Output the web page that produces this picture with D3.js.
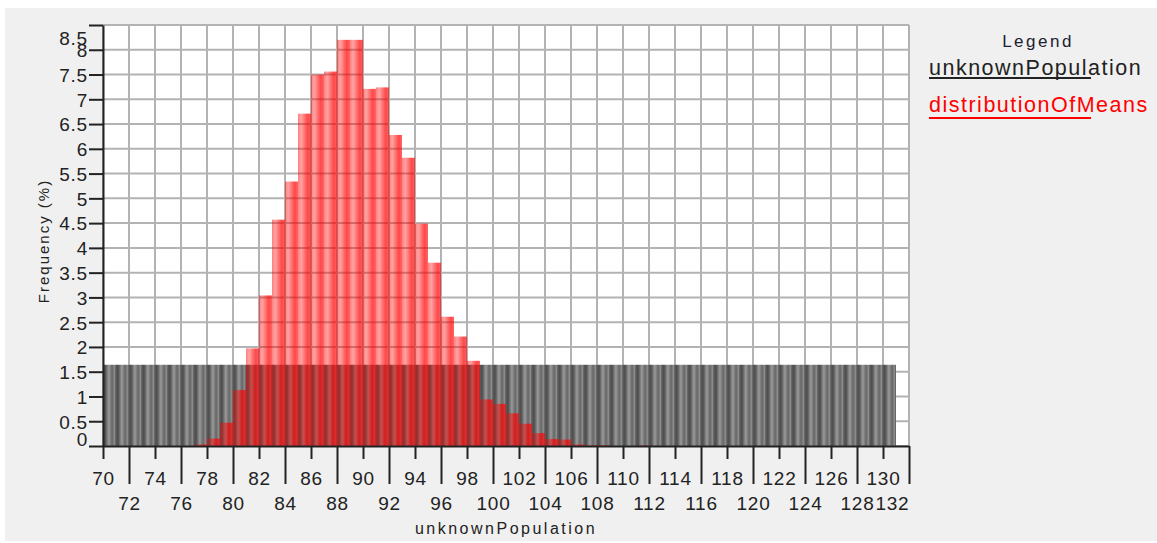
<!DOCTYPE html>
<html lang="en">
<head>
    <meta charset="UTF-8">
    <title>unknownPopulation vs distributionOfMeans</title>
    <style>
        body {
            margin: 0;
            background: #ffffff;
            font-family: 'Liberation Sans', Arial, sans-serif;
        }
        .grid line {
            stroke: #b3b3b3;
            stroke-width: 2px;
        }
        .axis path, .axis line {
            stroke: #222;
            stroke-width: 2px;
        }
        .axis text {
            font-family: 'Liberation Sans', Arial, sans-serif;
            font-size: 19px;
            fill: #222;
            letter-spacing: 0.8px;
        }
    </style>
    <script src="https://d3js.org/d3.v7.min.js"></script>
</head>
<body>
<svg id="chart" width="1157" height="543"></svg>
<script>
    // histogram bins (left edge of each 1-unit bin) and frequencies in %
    const popBins = [70, 71, 72, 73, 74, 75, 76, 77, 78, 79, 80, 81, 82, 83, 84, 85, 86, 87, 88, 89,
        90, 91, 92, 93, 94, 95, 96, 97, 98, 99, 100, 101, 102, 103, 104, 105, 106, 107, 108, 109,
        110, 111, 112, 113, 114, 115, 116, 117, 118, 119, 120, 121, 122, 123, 124, 125, 126, 127, 128, 129, 130];
    const popValues = [1.64, 1.64, 1.64, 1.64, 1.64, 1.64, 1.64, 1.64, 1.64, 1.64, 1.64, 1.64, 1.64, 1.64, 1.64, 1.64,
        1.64, 1.64, 1.64, 1.64, 1.64, 1.64, 1.64, 1.64, 1.64, 1.64, 1.64, 1.64, 1.64, 1.64, 1.64, 1.64,
        1.64, 1.64, 1.64, 1.64, 1.64, 1.64, 1.64, 1.64, 1.64, 1.64, 1.64, 1.64, 1.64, 1.64, 1.64, 1.64,
        1.64, 1.64, 1.64, 1.64, 1.64, 1.64, 1.64, 1.64, 1.64, 1.64, 1.64, 1.64, 1.64];

    const meanBins = [77, 78, 79, 80, 81, 82, 83, 84, 85, 86, 87, 88, 89, 90, 91, 92, 93, 94, 95, 96,
        97, 98, 99, 100, 101, 102, 103, 104, 105, 106, 107, 108, 111];
    const meanValues = [0.03, 0.15, 0.47, 1.13, 1.97, 3.04, 4.57, 5.34, 6.71, 7.50, 7.56, 8.20, 8.20, 7.21, 7.24, 6.28,
        5.82, 4.49, 3.70, 2.61, 2.21, 1.72, 0.94, 0.85, 0.66, 0.45, 0.26, 0.14, 0.13, 0.03, 0.01, 0.015, 0.01];

    const xTicks = [70, 72, 74, 76, 78, 80, 82, 84, 86, 88, 90, 92, 94, 96, 98, 100, 102, 104, 106, 108,
        110, 112, 114, 116, 118, 120, 122, 124, 126, 128, 130, 132];
    const yTicks = [0, 0.5, 1, 1.5, 2, 2.5, 3, 3.5, 4, 4.5, 5, 5.5, 6, 6.5, 7, 7.5, 8, 8.5];

    const svg = d3.select("#chart");

    // grey panel
    svg.append("rect")
        .attr("x", 5).attr("y", 8)
        .attr("width", 1152).attr("height", 533)
        .attr("fill", "#f0f0f0");

    const x = d3.scaleLinear().domain([70, 132]).range([103, 909]);
    const y = d3.scaleLinear().domain([0, 8.5]).range([446, 25]);

    // gradients for the striped bar look
    const defs = svg.append("defs");
    const grey = defs.append("linearGradient").attr("id", "greyGrad");
    [["0%", "#5c5c5c"], ["15%", "#4c4c4c"], ["45%", "#9a9a9a"], ["70%", "#666"], ["88%", "#8c8c8c"], ["100%", "#585858"]]
        .forEach(s => grey.append("stop").attr("offset", s[0]).attr("stop-color", s[1]));
    const red = defs.append("linearGradient").attr("id", "redGrad");
    [["0%", 0.5], ["25%", 0.36], ["75%", 0.72], ["100%", 0.6]]
        .forEach(s => red.append("stop").attr("offset", s[0]).attr("stop-color", "#ff0000").attr("stop-opacity", s[1]));

    // plot area
    svg.append("rect")
        .attr("x", x(70)).attr("y", y(8.5))
        .attr("width", x(132) - x(70)).attr("height", y(0) - y(8.5))
        .attr("fill", "#fff");

    const grid = svg.append("g").attr("class", "grid");
    grid.selectAll(".h").data(yTicks).join("line")
        .attr("x1", x(70)).attr("x2", x(132))
        .attr("y1", d => y(d)).attr("y2", d => y(d));
    grid.selectAll(".v").data(xTicks).join("line")
        .attr("x1", d => x(d)).attr("x2", d => x(d))
        .attr("y1", y(8.5)).attr("y2", y(0));

    // unknownPopulation bars
    svg.append("g").selectAll("rect").data(popBins).join("rect")
        .attr("x", d => x(d))
        .attr("width", d => x(d + 1) - x(d))
        .attr("y", (d, i) => y(popValues[i]))
        .attr("height", (d, i) => y(0) - y(popValues[i]))
        .attr("fill", "url(#greyGrad)");

    // distributionOfMeans bars
    svg.append("g").selectAll("rect").data(meanBins).join("rect")
        .attr("x", d => x(d))
        .attr("width", d => x(d + 1) - x(d))
        .attr("y", (d, i) => y(meanValues[i]))
        .attr("height", (d, i) => y(0) - y(meanValues[i]))
        .attr("fill", "url(#redGrad)");

    // y axis
    const yAxis = svg.append("g")
        .attr("class", "axis")
        .attr("transform", `translate(${x(70)},0)`)
        .call(d3.axisLeft(y).tickValues(yTicks).tickSize(14).tickSizeOuter(0).tickPadding(1)
            .tickFormat(d => d));
    yAxis.selectAll("text")
        .attr("dy", d => d === 8.5 ? "1.0em" : (d === 0 ? "-0.05em" : "0.36em"));

    // x axis, labels alternate between two rows
    const xAxis = svg.append("g")
        .attr("class", "axis")
        .attr("transform", `translate(0,${y(0)})`)
        .call(d3.axisBottom(x).tickValues(xTicks).tickSize(13).tickSizeOuter(0));
    xAxis.selectAll(".tick line")
        .attr("y2", (d, i) => i % 2 ? 38 : 13);
    xAxis.selectAll(".tick text")
        .attr("dy", 0)
        .attr("y", (d, i) => i % 2 ? 64 : 39)
        .attr("text-anchor", d => d === 132 ? "end" : "middle")
        .attr("dx", d => d === 132 ? 0 : 0);

    // axis titles
    svg.append("text")
        .attr("x", 506).attr("y", 534)
        .attr("text-anchor", "middle")
        .style("font-size", "16px")
        .style("letter-spacing", "2.5px")
        .attr("fill", "#222")
        .text("unknownPopulation");

    svg.append("text")
        .attr("transform", "translate(49,241) rotate(-90)")
        .attr("text-anchor", "middle")
        .style("font-size", "15px")
        .style("letter-spacing", "2px")
        .attr("fill", "#222")
        .text("Frequency (%)");

    // legend
    svg.append("text")
        .attr("x", 1038).attr("y", 47)
        .attr("text-anchor", "middle")
        .style("font-size", "17px")
        .style("letter-spacing", "2.5px")
        .attr("fill", "#202030")
        .text("Legend");

    const legendItems = [
        {name: "unknownPopulation", color: "#222"},
        {name: "distributionOfMeans", color: "#ff0000"}
    ];
    const lg = svg.append("g").selectAll("g").data(legendItems).join("g")
        .attr("transform", (d, i) => `translate(929,${75 + i * 37})`);
    lg.append("text")
        .style("font-size", "21.5px")
        .style("letter-spacing", "1.5px")
        .attr("fill", d => d.color)
        .text(d => d.name);
    lg.append("line")
        .attr("x1", 0).attr("x2", 162)
        .attr("y1", d => d.color === "#222" ? 3 : 6).attr("y2", d => d.color === "#222" ? 3 : 6)
        .attr("stroke", d => d.color)
        .attr("stroke-width", 2);
</script>
</body>
</html>
